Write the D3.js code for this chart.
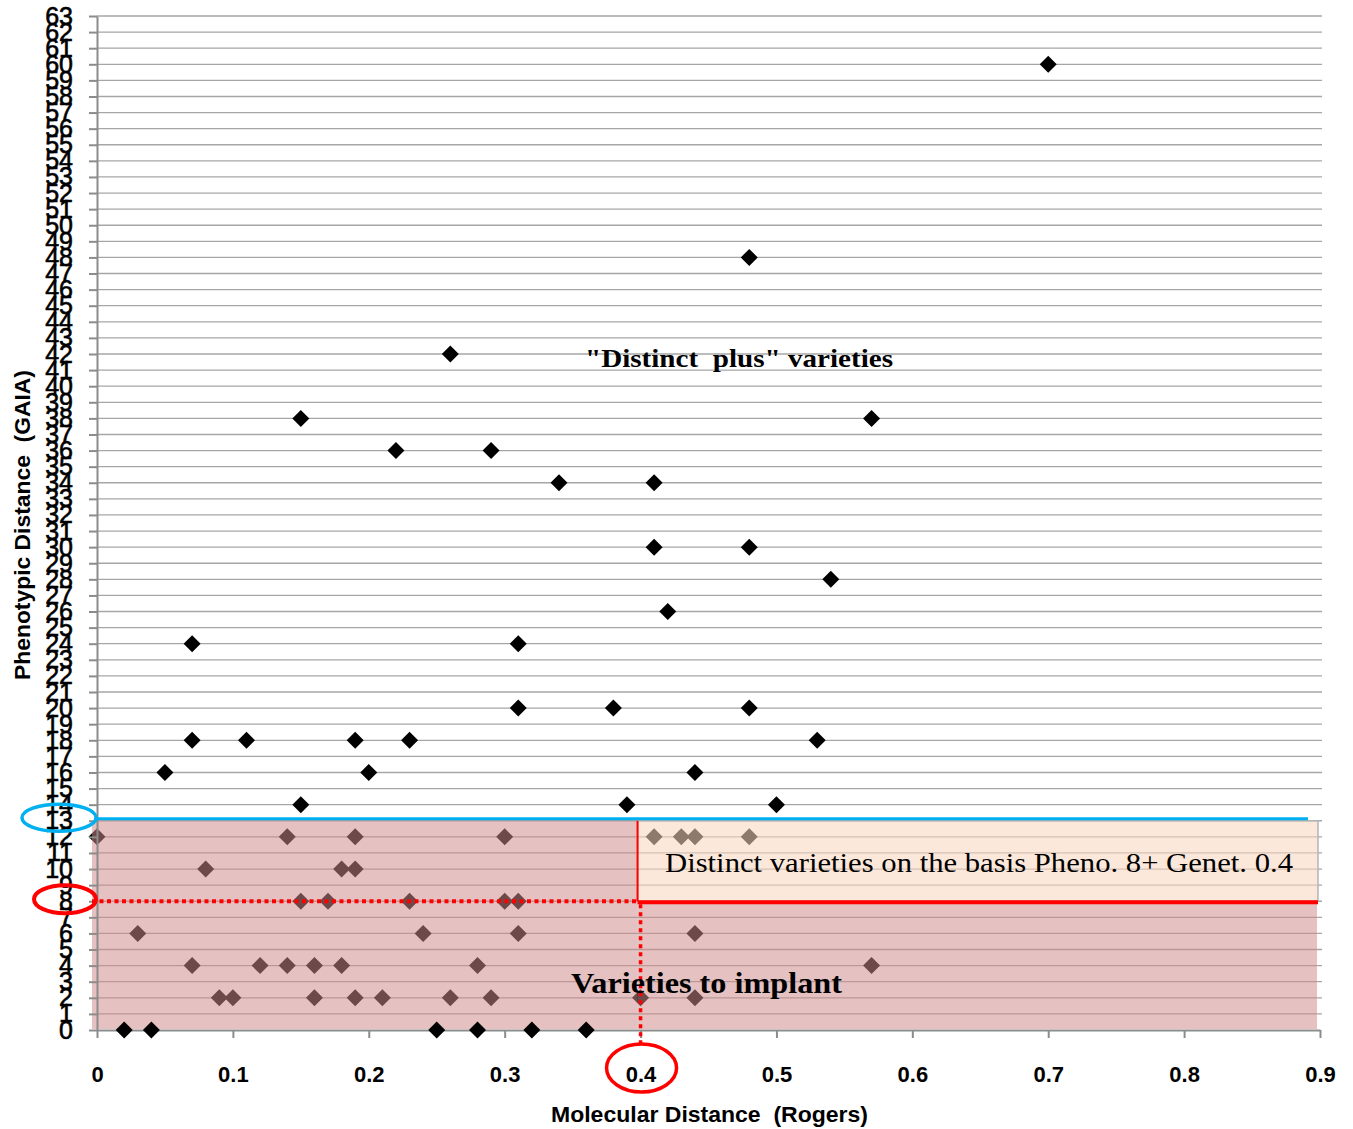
<!DOCTYPE html>
<html>
<head>
<meta charset="utf-8">
<script src="https://cdn.jsdelivr.net/npm/d3@7"></script>
<style>
  body { margin: 0; background: #fff; }
  text { white-space: pre; }
</style>
</head>
<body>
<svg id="chart" width="1353" height="1129"></svg>
<script>
// Molecular (Rogers) vs phenotypic (GAIA) distance between varieties

var molecular = [
  0.70, 0.48, 0.26, 0.15, 0.57, 0.22, 0.29, 0.34, 0.41, 0.41, 0.48, 0.54, 0.42,
  0.07, 0.31, 0.31, 0.38, 0.48, 0.07, 0.11, 0.19, 0.23, 0.53, 0.05, 0.20, 0.44,
  0.15, 0.39, 0.50,
  0.00, 0.14, 0.19, 0.30, 0.41, 0.43, 0.44, 0.48,
  0.08, 0.18, 0.19,
  0.15, 0.17, 0.23, 0.30, 0.31,
  0.03, 0.24, 0.31, 0.44,
  0.07, 0.12, 0.14, 0.16, 0.18, 0.28, 0.57,
  0.09, 0.10, 0.16, 0.19, 0.21, 0.26, 0.29, 0.40, 0.44,
  0.02, 0.04, 0.25, 0.28, 0.32, 0.36
];
var phenotypic = [
  60, 48, 42, 38, 38, 36, 36, 34, 34, 30, 30, 28, 26,
  24, 24, 20, 20, 20, 18, 18, 18, 18, 18, 16, 16, 16,
  14, 14, 14,
  12, 12, 12, 12, 12, 12, 12, 12,
  10, 10, 10,
  8, 8, 8, 8, 8,
  6, 6, 6, 6,
  4, 4, 4, 4, 4, 4, 4,
  2, 2, 2, 2, 2, 2, 2, 2, 2,
  0, 0, 0, 0, 0, 0
];

var xTickValues = [0, 0.1, 0.2, 0.3, 0.4, 0.5, 0.6, 0.7, 0.8, 0.9];
var yTickValues = d3.range(0, 64);

var phenoCut = 8, genetCut = 0.4, plusCut = 13;

var points = molecular.map(function (m, i) { return { x: m, y: phenotypic[i] }; });

var svg = d3.select("#chart");
var x = d3.scaleLinear().domain([0, 0.9]).range([97, 1320]);
var y = d3.scaleLinear().domain([0, 63]).range([1030, 16]);

var diamond = "M0,-8.5L8.5,0L0,8.5L-8.5,0Z";

// grid
svg.append("g")
  .selectAll("line")
  .data(yTickValues.filter(function (d) { return d > 0; }))
  .join("line")
  .attr("x1", x(0)).attr("x2", x(0.9) + 2)
  .attr("y1", function (d) { return y(d); })
  .attr("y2", function (d) { return y(d); })
  .attr("stroke", "#a6a6a6")
  .attr("stroke-width", 1.3);

// points that sit under the shaded zones
var drawPoints = function (g, data) {
  g.selectAll("path")
    .data(data)
    .join("path")
    .attr("d", diamond)
    .attr("transform", function (d) { return "translate(" + x(d.x) + "," + y(d.y) + ")"; })
    .attr("fill", "#000");
};
drawPoints(svg.append("g"), points.filter(function (d) { return d.y > 0; }));

// shaded zones
var zones = svg.append("g");
zones.append("rect")
  .attr("x", x(0) - 5).attr("y", y(plusCut))
  .attr("width", x(genetCut) - 3 - (x(0) - 5))
  .attr("height", y(0) - y(plusCut) - 1)
  .attr("fill", "rgb(205,138,138)").attr("fill-opacity", 0.53);
zones.append("rect")
  .attr("x", x(genetCut) - 3).attr("y", y(phenoCut))
  .attr("width", x(0.9) - 3 - (x(genetCut) - 3))
  .attr("height", y(0) - y(phenoCut) - 1)
  .attr("fill", "rgb(205,138,138)").attr("fill-opacity", 0.53);
zones.append("rect")
  .attr("x", x(genetCut) - 3).attr("y", y(plusCut))
  .attr("width", x(0.9) - 2 - (x(genetCut) - 3))
  .attr("height", y(phenoCut) - y(plusCut))
  .attr("fill", "rgb(250,215,190)").attr("fill-opacity", 0.57)
  .attr("stroke", "#b4b4b4").attr("stroke-width", 1.5);

// axes
var yAxis = svg.append("g")
  .attr("transform", "translate(" + x(0) + ",0)")
  .call(d3.axisLeft(y).tickValues(yTickValues).tickSize(8).tickPadding(16).tickSizeOuter(0));
var xAxis = svg.append("g")
  .attr("transform", "translate(0," + y(0) + ")")
  .call(d3.axisBottom(x).tickValues(xTickValues).tickSize(8).tickPadding(28).tickSizeOuter(0)
    .tickFormat(function (d) { return d ? d3.format(".1f")(d) : "0"; }));

[yAxis, xAxis].forEach(function (a) {
  a.select(".domain").attr("stroke", "#8c8c8c").attr("stroke-width", 2);
  a.selectAll(".tick line").attr("stroke", "#8c8c8c").attr("stroke-width", 2);
});
yAxis.selectAll("text")
  .attr("font-family", "'Liberation Sans', Arial, sans-serif")
  .attr("font-size", 25).attr("fill", "#000")
  .attr("stroke", "#000").attr("stroke-width", 0.6);
xAxis.selectAll("text")
  .attr("font-family", "'Liberation Sans', Arial, sans-serif")
  .attr("font-weight", "bold").attr("font-size", 22).attr("fill", "#000");

// thresholds
var marks = svg.append("g");
marks.append("line")
  .attr("x1", x(0)).attr("x2", x(0.9) - 12)
  .attr("y1", y(plusCut) - 2).attr("y2", y(plusCut) - 2)
  .attr("stroke", "#00b0f0").attr("stroke-width", 3);
marks.append("line")
  .attr("x1", x(genetCut) - 3).attr("x2", x(genetCut) - 3)
  .attr("y1", y(plusCut)).attr("y2", y(phenoCut))
  .attr("stroke", "#ff0000").attr("stroke-width", 2);
marks.append("line")
  .attr("x1", x(genetCut) - 3).attr("x2", x(0.9) - 2)
  .attr("y1", y(phenoCut) + 1).attr("y2", y(phenoCut) + 1)
  .attr("stroke", "#ff0000").attr("stroke-width", 4);
marks.append("line")
  .attr("x1", x(0) - 5).attr("x2", x(genetCut) - 3)
  .attr("y1", y(phenoCut)).attr("y2", y(phenoCut))
  .attr("stroke", "#ff0000").attr("stroke-width", 4)
  .attr("stroke-dasharray", "4,3.5");
marks.append("line")
  .attr("x1", x(genetCut)).attr("x2", x(genetCut))
  .attr("y1", y(phenoCut) + 3).attr("y2", y(0) + 13)
  .attr("stroke", "#ff0000").attr("stroke-width", 3.5)
  .attr("stroke-dasharray", "4,4");

// circled values
marks.append("ellipse")
  .attr("cx", 59).attr("cy", y(plusCut) - 3).attr("rx", 37).attr("ry", 13.5)
  .attr("fill", "none").attr("stroke", "#00b0f0").attr("stroke-width", 3.5);
marks.append("ellipse")
  .attr("cx", 65).attr("cy", y(phenoCut) - 2).attr("rx", 31).attr("ry", 14)
  .attr("fill", "none").attr("stroke", "#ff0000").attr("stroke-width", 4);
marks.append("ellipse")
  .attr("cx", x(genetCut) + 1).attr("cy", 1068).attr("rx", 35).attr("ry", 24)
  .attr("fill", "none").attr("stroke", "#ff0000").attr("stroke-width", 3.5);

// points on the axis stay on top
drawPoints(svg.append("g"), points.filter(function (d) { return d.y === 0; }));

// annotations
var serif = "'Liberation Serif', 'Times New Roman', serif";
svg.append("text")
  .attr("x", 585).attr("y", 367)
  .attr("font-family", serif).attr("font-weight", "bold").attr("font-size", 25)
  .attr("textLength", 308).attr("lengthAdjust", "spacingAndGlyphs")
  .text("\"Distinct  plus\" varieties");
svg.append("text")
  .attr("x", 665).attr("y", 872)
  .attr("font-family", serif).attr("font-size", 27)
  .attr("textLength", 628).attr("lengthAdjust", "spacingAndGlyphs")
  .text("Distinct varieties on the basis Pheno. 8+ Genet. 0.4");
svg.append("text")
  .attr("x", 571).attr("y", 993)
  .attr("font-family", serif).attr("font-weight", "bold").attr("font-size", 30)
  .attr("textLength", 271).attr("lengthAdjust", "spacingAndGlyphs")
  .text("Varieties to implant");

// axis titles
var sans = "'Liberation Sans', Arial, sans-serif";
svg.append("text")
  .attr("x", 551).attr("y", 1122)
  .attr("font-family", sans).attr("font-weight", "bold").attr("font-size", 22)
  .attr("textLength", 317).attr("lengthAdjust", "spacingAndGlyphs")
  .text("Molecular Distance  (Rogers)");
svg.append("text")
  .attr("transform", "translate(30,680) rotate(-90)")
  .attr("font-family", sans).attr("font-weight", "bold").attr("font-size", 22)
  .attr("textLength", 310).attr("lengthAdjust", "spacingAndGlyphs")
  .text("Phenotypic Distance  (GAIA)");
</script>
</body>
</html>
